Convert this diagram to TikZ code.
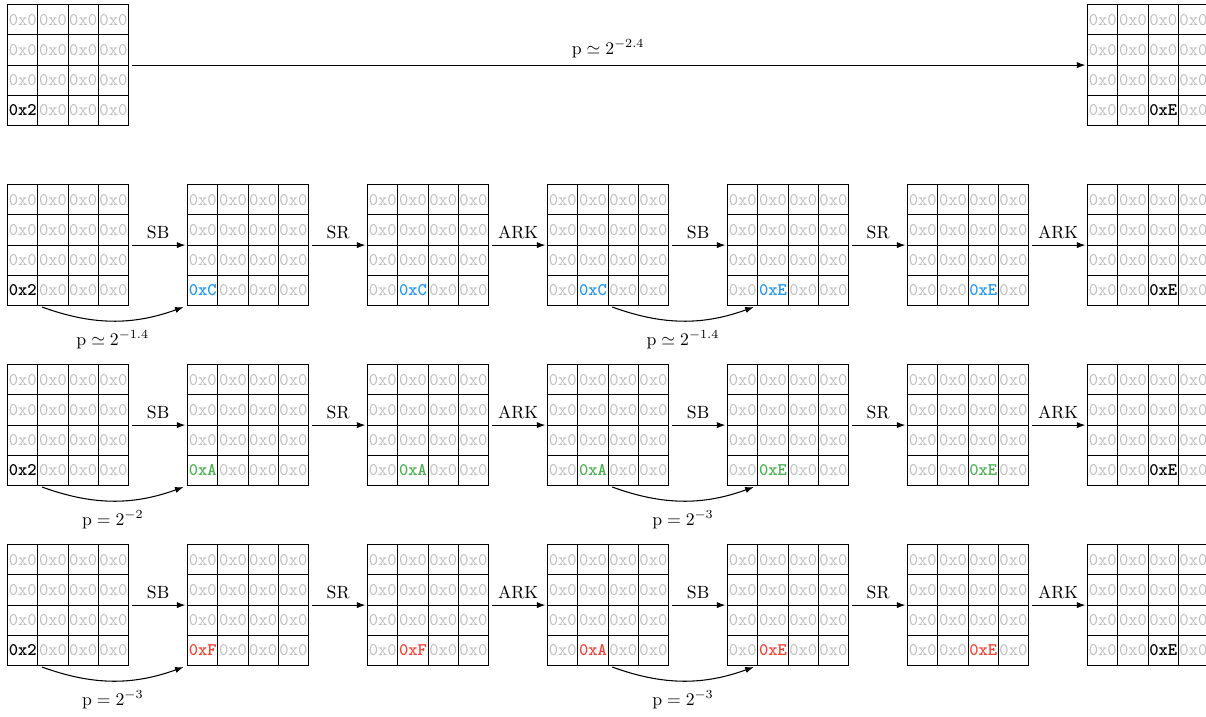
\documentclass[tikz,border=0pt]{standalone}
\usetikzlibrary{arrows.meta}
\definecolor{zgray}{HTML}{BDBDBD}
\definecolor{cblue}{HTML}{2196F3}
\definecolor{cgreen}{HTML}{4CAF50}
\definecolor{cred}{HTML}{F44336}
\newcommand\zerocell{\textcolor{zgray}{0x0}}
\newcommand\hl[2]{\textbf{\textcolor{#1}{#2}}}
\newcommand\stgrid[5]{%
  \foreach \r in {1,...,4}{%
    \foreach \c in {1,...,4}{%
      \ifnum\r=4 \ifnum\c=#4 \def\celltxt{#5}\else\def\celltxt{\zerocell}\fi
      \else\def\celltxt{\zerocell}\fi
      \node[cell] (#1-\r-\c) at ({#2+(\c-0.5)*30.2},{#3+(\r-0.5)*30.2}) {\celltxt};
    }%
  }%
}
\tikzset{
  cell/.style={draw, line width=0.6pt, inner sep=0pt, outer sep=0pt,
    minimum width=17.04pt, minimum height=17.04pt, font=\ttfamily},
  harrow/.style={-{Latex[length=4.8pt,width=3.5pt]}, line width=0.6pt,
    shorten <=1.8pt, shorten >=1.3pt},
  carrow/.style={-{Latex[length=4.8pt,width=3.5pt]}, line width=0.6pt,
    shorten <=2.5pt, shorten >=2.5pt, bend right=20},
  plab/.style={below, inner sep=5.5pt},
}
\begin{document}
\begin{tikzpicture}[x=0.5643pt, y=-0.5643pt]
\useasboundingbox (0,0) rectangle (1206,716);
% row a
\stgrid{a0}{7.7}{4.7}{1}{\hl{black}{0x2}}
\stgrid{a6}{1087.7}{4.7}{3}{\hl{black}{0xE}}
\draw[harrow] (a0-2-4.south east) -- node[above, inner sep=4pt]{$\mathrm{p} \simeq 2^{-2.4}$} (a6-2-1.south west);
% row b
\stgrid{b0}{7.7}{184.7}{1}{\hl{black}{0x2}}
\stgrid{b1}{187.7}{184.7}{1}{\hl{cblue}{0xC}}
\stgrid{b2}{367.7}{184.7}{2}{\hl{cblue}{0xC}}
\stgrid{b3}{547.7}{184.7}{2}{\hl{cblue}{0xC}}
\stgrid{b4}{727.7}{184.7}{2}{\hl{cblue}{0xE}}
\stgrid{b5}{907.7}{184.7}{3}{\hl{cblue}{0xE}}
\stgrid{b6}{1087.7}{184.7}{3}{\hl{black}{0xE}}
% row c
\stgrid{c0}{7.7}{364.7}{1}{\hl{black}{0x2}}
\stgrid{c1}{187.7}{364.7}{1}{\hl{cgreen}{0xA}}
\stgrid{c2}{367.7}{364.7}{2}{\hl{cgreen}{0xA}}
\stgrid{c3}{547.7}{364.7}{2}{\hl{cgreen}{0xA}}
\stgrid{c4}{727.7}{364.7}{2}{\hl{cgreen}{0xE}}
\stgrid{c5}{907.7}{364.7}{3}{\hl{cgreen}{0xE}}
\stgrid{c6}{1087.7}{364.7}{3}{\hl{black}{0xE}}
% row d
\stgrid{d0}{7.7}{544.7}{1}{\hl{black}{0x2}}
\stgrid{d1}{187.7}{544.7}{1}{\hl{cred}{0xF}}
\stgrid{d2}{367.7}{544.7}{2}{\hl{cred}{0xF}}
\stgrid{d3}{547.7}{544.7}{2}{\hl{cred}{0xA}}
\stgrid{d4}{727.7}{544.7}{2}{\hl{cred}{0xE}}
\stgrid{d5}{907.7}{544.7}{3}{\hl{cred}{0xE}}
\stgrid{d6}{1087.7}{544.7}{3}{\hl{black}{0xE}}
% horizontal arrows
\foreach \row in {b,c,d}{
  \foreach \i/\j/\lab in {0/1/SB,1/2/SR,2/3/ARK,3/4/SB,4/5/SR,5/6/ARK}{
    \draw[harrow] (\row\i-2-4.south east) -- node[above, inner sep=3pt]{\lab} (\row\j-2-1.south west);
  }
}
% curved arrows
\draw[carrow] (b0-4-1.south east) to node[plab]{$\mathrm{p} \simeq 2^{-1.4}$} (b1-4-1.south west);
\draw[carrow] (b3-4-2.south east) to node[plab]{$\mathrm{p} \simeq 2^{-1.4}$} (b4-4-2.south west);
\draw[carrow] (c0-4-1.south east) to node[plab]{$\mathrm{p} = 2^{-2}$} (c1-4-1.south west);
\draw[carrow] (c3-4-2.south east) to node[plab]{$\mathrm{p} = 2^{-3}$} (c4-4-2.south west);
\draw[carrow] (d0-4-1.south east) to node[plab]{$\mathrm{p} = 2^{-3}$} (d1-4-1.south west);
\draw[carrow] (d3-4-2.south east) to node[plab]{$\mathrm{p} = 2^{-3}$} (d4-4-2.south west);
\end{tikzpicture}
\end{document}
